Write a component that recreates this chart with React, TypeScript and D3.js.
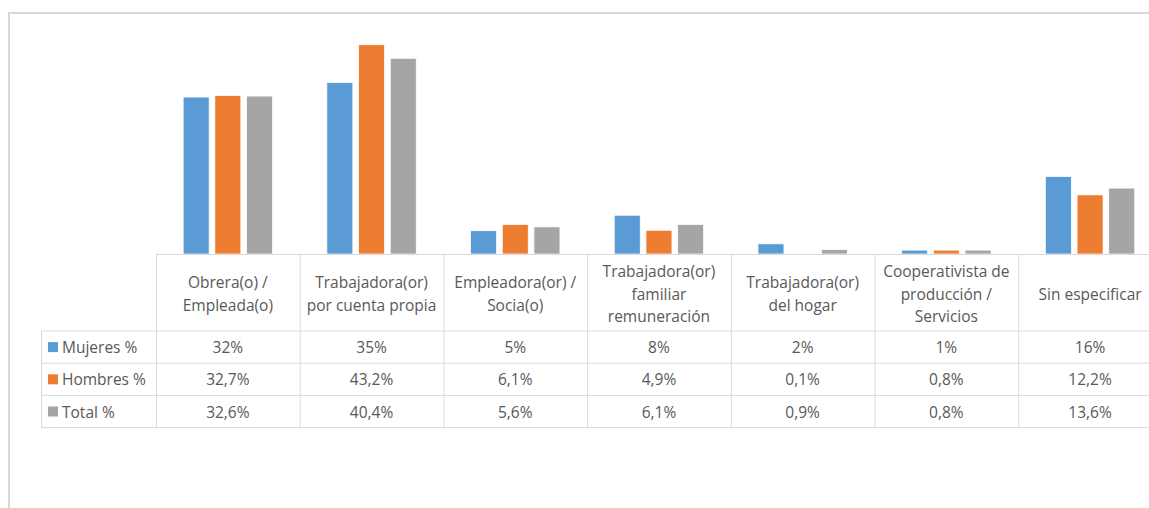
import React from "react";
import * as d3 from "d3";

const categories: string[][] = [
  ["Obrera(o) /", "Empleada(o)"],
  ["Trabajadora(or)", "por cuenta propia"],
  ["Empleadora(or) /", "Socia(o)"],
  ["Trabajadora(or)", "familiar", "remuneración"],
  ["Trabajadora(or)", "del hogar"],
  ["Cooperativista de", "producción /", "Servicios"],
  ["Sin especificar"],
];
const seriesNames = ["Mujeres %", "Hombres %", "Total %"];
const mujeres = [32.4, 35.4, 4.8, 8.0, 2.1, 0.8, 16.0];
const hombres = [32.7, 43.2, 6.1, 4.9, 0.1, 0.8, 12.2];
const total = [32.6, 40.4, 5.6, 6.1, 0.9, 0.8, 13.6];
const seriesValues = [mujeres, hombres, total];
const seriesDecimals = [0, 1, 1];
const colors = ["#5B9BD5", "#ED7D31", "#A5A5A5"];

const W = 1149;
const H = 508;
const FONT = "'Open Sans', 'Noto Sans', sans-serif";
const TXT = "#595959";
const GRID = "#d9d9d9";
const FS = 15.5;

export default function App() {
  const colW = 143.7;
  const tableX0 = 156;
  const legendX0 = 41;
  const axisY = 254;
  const headerBottom = 331;
  const rowH = 32.2;

  const catIdx = categories.map((_, i) => String(i));
  const x0 = d3
    .scaleBand<string>()
    .domain(catIdx)
    .range([tableX0, tableX0 + colW * categories.length])
    .padding(0);
  const x1 = d3
    .scaleBand<string>()
    .domain(seriesNames)
    .range([0, x0.bandwidth()])
    .paddingInner(0.18)
    .paddingOuter(0.857);
  const y = d3.scaleLinear().domain([0, 45]).range([axisY, 36]);

  const fmt = (v: number, dec: number) =>
    d3.format(`.${dec}f`)(v).replace(".", ",") + "%";

  const tableRight = tableX0 + colW * categories.length;
  const bottom = headerBottom + rowH * 3;

  return (
    <svg
      width={W}
      height={H}
      style={{ position: "absolute", left: 0, top: 0, background: "#fff" }}
      fontFamily={FONT}
    >
      {/* chart frame */}
      <line x1={9} x2={9} y1={12} y2={H} stroke={GRID} strokeWidth={2} />
      <line x1={8} x2={W} y1={13} y2={13} stroke={GRID} strokeWidth={2} />

      {/* bars */}
      {seriesValues.map((vals, s) => (
        <g key={s}>
          {vals.map((v, i) => (
            <rect
              key={i}
              x={(x0(String(i)) as number) + (x1(seriesNames[s]) as number)}
              y={y(v)}
              width={x1.bandwidth()}
              height={axisY - y(v)}
              fill={colors[s]}
              stroke="#fff"
              strokeWidth={0.75}
            />
          ))}
        </g>
      ))}

      {/* table grid */}
      <line x1={tableX0} x2={tableRight} y1={axisY + 0.5} y2={axisY + 0.5} stroke={GRID} strokeWidth={1} />
      {[0, 1, 2, 3].map((r) => (
        <line
          key={r}
          x1={legendX0}
          x2={tableRight}
          y1={headerBottom + r * rowH}
          y2={headerBottom + r * rowH}
          stroke={GRID}
          strokeWidth={1}
        />
      ))}
      <line x1={legendX0 + 0.5} x2={legendX0 + 0.5} y1={headerBottom} y2={bottom} stroke={GRID} strokeWidth={1} />
      {d3.range(categories.length + 1).map((i) => (
        <line
          key={i}
          x1={tableX0 + i * colW + 0.5}
          x2={tableX0 + i * colW + 0.5}
          y1={axisY}
          y2={bottom}
          stroke={GRID}
          strokeWidth={1}
        />
      ))}

      {/* header labels */}
      {categories.map((lines, i) => {
        const cx = (x0(String(i)) as number) + x0.bandwidth() / 2;
        const cy = (axisY + headerBottom) / 2 + 1;
        const lh = 22.5;
        return (
          <text key={i} x={cx} textAnchor="middle" fill={TXT} fontSize={FS}>
            {lines.map((l, k) => (
              <tspan
                key={k}
                x={cx}
                y={cy + (k - (lines.length - 1) / 2) * lh}
                dominantBaseline="central"
              >
                {l}
              </tspan>
            ))}
          </text>
        );
      })}

      {/* rows */}
      {seriesNames.map((name, s) => {
        const cy = headerBottom + rowH * s + rowH / 2;
        return (
          <g key={name}>
            <rect x={48} y={cy - 5} width={10} height={10} fill={colors[s]} />
            <text x={62} y={cy} dominantBaseline="central" fill={TXT} fontSize={FS}>
              {name}
            </text>
            {seriesValues[s].map((v, i) => (
              <text
                key={i}
                x={(x0(String(i)) as number) + x0.bandwidth() / 2}
                y={cy}
                textAnchor="middle"
                dominantBaseline="central"
                fill={TXT}
                fontSize={FS}
              >
                {fmt(v, seriesDecimals[s])}
              </text>
            ))}
          </g>
        );
      })}
    </svg>
  );
}
